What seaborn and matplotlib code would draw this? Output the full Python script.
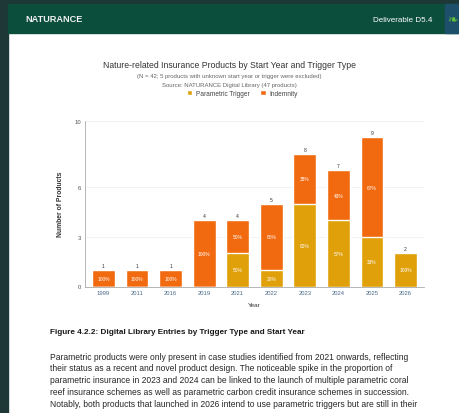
import matplotlib
matplotlib.use("Agg")
import matplotlib.pyplot as plt
from matplotlib.patches import Rectangle, Patch
import pandas as pd
import seaborn as sns

# Products by start year, split by trigger type
years = ["1999", "2011", "2016", "2019", "2021", "2022", "2023", "2024", "2025", "2026"]
parametric = [0, 0, 0, 0, 2, 1, 5, 4, 3, 2]
indemnity = [1, 1, 1, 4, 2, 4, 3, 3, 6, 0]
y_ticks = [0, 3, 6, 10]

title = "Nature-related Insurance Products by Start Year and Trigger Type"
subtitle_1 = "(N = 42; 5 products with unknown start year or trigger were excluded)"
subtitle_2 = "Source: NATURANCE Digital Library (47 products)"
legend_labels = ["Parametric Trigger", "Indemnity"]
caption = "Figure 4.2.2: Digital Library Entries by Trigger Type and Start Year"
body_lines = [
    "Parametric products were only present in case studies identified from 2021 onwards, reflecting",
    "their status as a recent and novel product design. The noticeable spike in the proportion of",
    "parametric insurance in 2023 and 2024 can be linked to the launch of multiple parametric coral",
    "reef insurance schemes as well as parametric carbon credit insurance schemes in succession.",
    "Notably, both products that launched in 2026 intend to use parametric triggers but are still in their",
]

ORANGE = "#f26a10"
GOLD = "#dfa00a"
HEADER = "#0b4e3c"
BORDER = "#1d3836"

totals = [p + i for p, i in zip(parametric, indemnity)]
df = pd.DataFrame({"Year": years, "Parametric": parametric,
                   "Indemnity": indemnity, "Total": totals})

sns.set_theme(style="white")
plt.rcParams["font.family"] = ["Liberation Sans", "DejaVu Sans"]

W, H = 459, 414
fig = plt.figure(figsize=(W / 100, H / 100), dpi=100)
fig.patch.set_facecolor("white")


def fx(x):
    return x / W


def fy(y):
    return 1 - y / H


# page frame and header band
fig.patches.append(Rectangle((0, 0), fx(8), 1, transform=fig.transFigure,
                             color=BORDER, zorder=0))
fig.patches.append(Rectangle((0, fy(5)), 1, 5 / H, transform=fig.transFigure,
                             color=BORDER, zorder=0))
fig.patches.append(Rectangle((fx(8), fy(34)), 1, 29 / H, transform=fig.transFigure,
                             color=HEADER, zorder=0))
fig.patches.append(Rectangle((fx(445), fy(34)), fx(14), 29 / H, transform=fig.transFigure,
                             color="#1d4f6a", zorder=1))
fig.text(fx(25), fy(20), "NATURANCE", color="#f2f2f2", fontsize=6.6,
         fontweight="bold", va="center", ha="left")
fig.text(fx(432), fy(20), "Deliverable D5.4", color="white", fontsize=5.8,
         va="center", ha="right")
fig.text(fx(452), fy(20), "\u2767", color="#5fbf3a", fontsize=9,
         va="center", ha="center", family=["DejaVu Sans"])

# chart titles and legend
fig.text(0.5, fy(66), title, ha="center", va="center", fontsize=6.2, color="#333333")
fig.text(0.5, fy(77), subtitle_1, ha="center", va="center", fontsize=4.3, color="#666666")
fig.text(0.5, fy(85.5), subtitle_2, ha="center", va="center", fontsize=4.3, color="#666666")
handles = [Patch(facecolor=GOLD), Patch(facecolor=ORANGE)]
fig.legend(handles, legend_labels, loc="center", bbox_to_anchor=(fx(242), fy(94)),
           ncol=2, frameon=False, fontsize=4.7, handlelength=0.9, handleheight=0.9,
           handletextpad=0.5, columnspacing=1.6, labelcolor="#444444")

# stacked bars: full total in orange, parametric share overlaid from the base
ax = fig.add_axes([fx(85), fy(287.5), fx(424) - fx(85), (287.5 - 121.7) / H])
sns.barplot(data=df, x="Year", y="Total", order=years, color=ORANGE,
            width=0.68, saturation=1, ax=ax)
sns.barplot(data=df, x="Year", y="Parametric", order=years, color=GOLD,
            width=0.68, saturation=1, ax=ax)

for i, (p, ind, t) in enumerate(zip(parametric, indemnity, totals)):
    ax.text(i, t + 0.12, str(t), ha="center", va="bottom", fontsize=3.6, color="#333333")
    if p > 0:
        ax.text(i, p / 2, f"{round(100 * p / t)}%", ha="center", va="center",
                fontsize=3.5, color="white")
    if ind > 0:
        ax.text(i, p + ind / 2, f"{round(100 * ind / t)}%", ha="center", va="center",
                fontsize=3.5, color="white")

ax.set_xlim(-0.55, 9.55)
ax.set_ylim(0, 10)
ax.set_yticks(y_ticks)
ax.tick_params(axis="both", labelsize=4.2, colors="#555555", length=1.5, width=0.4, pad=1.5)
ax.tick_params(axis="x", length=0, pad=2.5, labelcolor="#4a6a8a")
ax.set_xlabel("Year", fontsize=4.6, color="#333333", labelpad=5)
ax.set_ylabel("Number of Products", fontsize=4.9, color="#333333", labelpad=7,
              fontweight="bold")
ax.yaxis.grid(True, color="#eeeeee", linewidth=0.5)
ax.set_axisbelow(True)
for side in ["top", "right"]:
    ax.spines[side].set_visible(False)
for side in ["left", "bottom"]:
    ax.spines[side].set_color("#999999")
    ax.spines[side].set_linewidth(0.5)

# caption and body text
fig.text(fx(50), fy(333), caption, ha="left", va="center", fontsize=5.9,
         fontweight="bold", color="#1a1a1a")
for k, line in enumerate(body_lines):
    fig.text(fx(50), fy(357 + 12 * k), line, ha="left", va="center",
             fontsize=6.15, color="#262626")

fig.savefig("out.png", dpi=100)
